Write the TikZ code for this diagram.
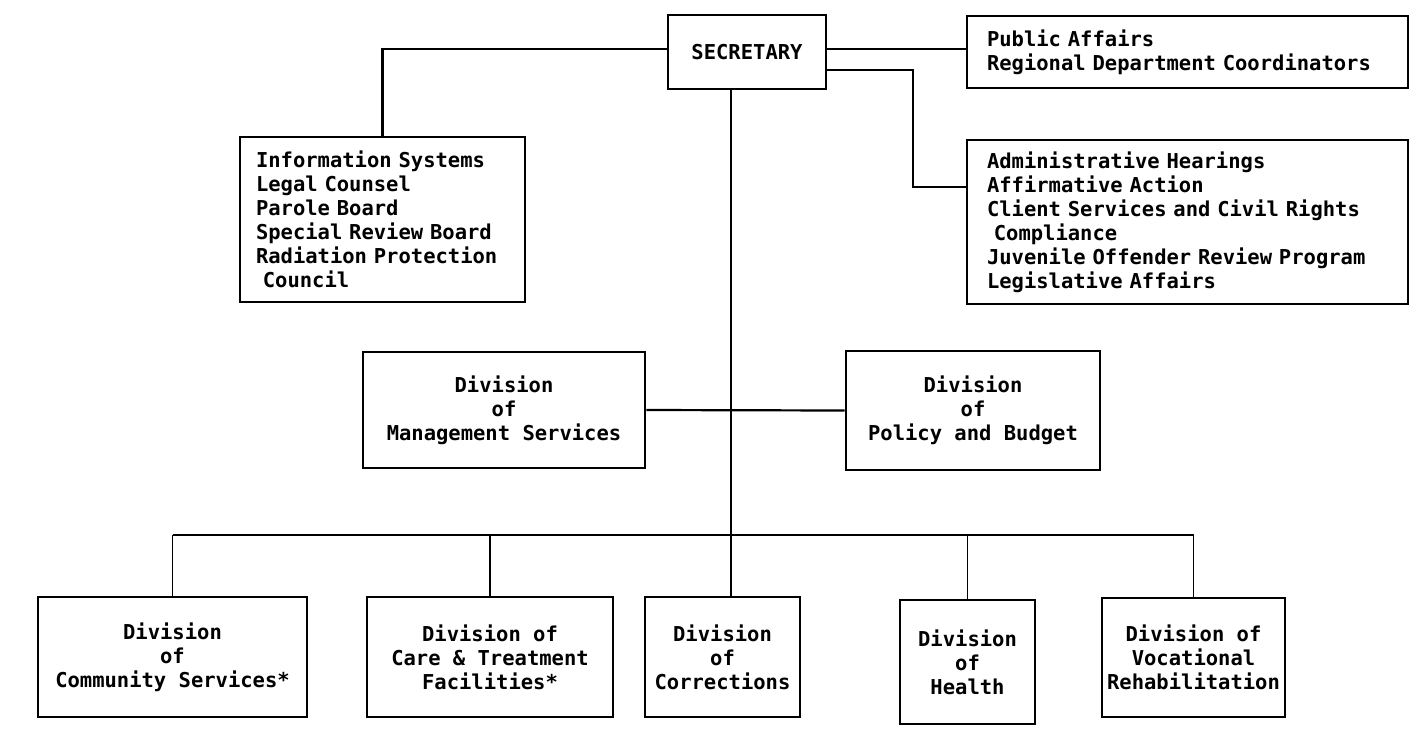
\documentclass[tikz,border=0pt]{standalone}
\usepackage{fontspec}
\setmonofont{DejaVu Sans Mono}
\usepackage{tikz}
\tikzset{
  unit/.style={draw, line width=2.6pt, align=center, inner sep=0pt,
    font=\ttfamily\bfseries\fontsize{20.5}{24}\selectfont},
  list/.style={unit, align=left, inner xsep=#1},
  link/.style={line width=2.2pt},
  spine/.style={line width=1.5pt},
}

\begin{document}
\begin{tikzpicture}[x=1pt,y=-1pt]
    \useasboundingbox (0,0) rectangle (1418,732);
    \node[unit, minimum width=158pt, minimum height=74pt] (sec) at (747,52) {SECRETARY};
    \node[list=16pt, text width=253pt, minimum height=165pt] (info) at (382.5,219.5)
      {Information Systems\\Legal Counsel\\Parole Board\\Special Review Board\\Radiation Protection\\~Council};
    \node[list=20pt, text width=401pt, minimum height=72pt] (pub) at (1187.5,52)
      {Public Affairs\\Regional Department Coordinators};
    \node[list=20pt, text width=401pt, minimum height=164pt] (adm) at (1187.5,222)
      {Administrative Hearings\\Affirmative Action\\Client Services and Civil Rights\\~Compliance\\Juvenile Offender Review Program\\Legislative Affairs};
    \node[unit, minimum width=282pt, minimum height=116pt] (mgt) at (504,410) {Division\\of\\Management Services};
    \node[unit, minimum width=254pt, minimum height=119pt] (pol) at (973,410.5) {Division\\of\\Policy and Budget};
    \node[unit, minimum width=269pt, minimum height=120pt] (com) at (172.5,657) {Division\\of\\Community Services*};
    \node[unit, minimum width=246pt, minimum height=120pt] (care) at (490,657) {Division of\\Care \& Treatment\\Facilities*};
    \node[unit, minimum width=155pt, minimum height=120pt] (cor) at (722.5,657) {Division\\of\\Corrections};
    \node[unit, minimum width=135pt, minimum height=124pt] (hea) at (967.5,662) {Division\\of\\Health};
    \node[unit, minimum width=183pt, minimum height=119pt] (voc) at (1193.5,657.5) {Division of\\Vocational\\Rehabilitation};
    \coordinate (knee) at (913,0);
    \coordinate (spinex) at (731,0);
    \coordinate (bus) at (0,535);
    \draw[link] ([yshift=3pt]sec.west) -| (info.north);
    \draw[link] ([yshift=3pt]sec.east) -- ([yshift=3pt]pub.west);
    \draw[link] ([yshift=-18pt]sec.east) -| ([yshift=35pt]adm.west -| knee) -- ([yshift=35pt]adm.west);
    \draw[spine] (sec.south -| spinex) -- (cor.north -| spinex);
    \draw[link] (mgt.east) -- (pol.west);
    \draw[link] (com.north |- bus) -- (voc.north |- bus);
    \foreach \n in {com,care,hea,voc}
      \draw[spine] (\n.north) -- (\n.north |- bus);
\end{tikzpicture}
\end{document}
